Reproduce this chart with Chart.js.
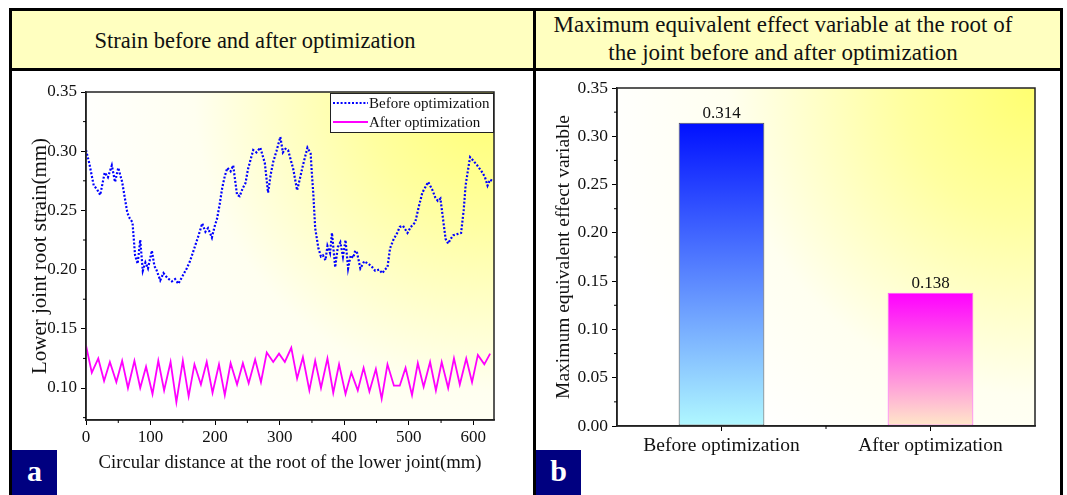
<!DOCTYPE html>
<html>
<head>
<meta charset="utf-8">
<script src="https://cdn.jsdelivr.net/npm/chart.js@4.4.0/dist/chart.umd.min.js"></script>
<style>
  body { margin: 0; width: 1067px; height: 495px; overflow: hidden; background: #fff;
         font-family: "Liberation Serif", "Times New Roman", serif; position: relative; }
  .abs { position: absolute; }
  .frame { left: 9px; top: 8px; width: 1048px; height: 500px; border: 3px solid #000; }
  .head { left: 12px; top: 11px; width: 1048px; height: 57px; background: #ffffc0; }
  .hline { left: 9px; top: 68px; width: 1054px; height: 3px; background: #000; }
  .vline { left: 533px; top: 8px; width: 3px; height: 490px; background: #000; }
  .title { color: #111; font-size: 22.5px; text-align: center; line-height: 28px; white-space: nowrap; }
  .tag { width: 45px; height: 46px; background: #000080; color: #fff; font-weight: bold;
         font-size: 30px; text-align: center; line-height: 42px; }
</style>
</head>
<body>
<div class="abs head"></div>
<div class="abs frame"></div>
<div class="abs hline"></div>
<div class="abs vline"></div>
<div class="abs title" style="left:12px; top:27px; width:486px;">Strain before and after optimization</div>
<div class="abs title" style="left:536px; top:11px; width:494px; font-size:23px;">Maximum equivalent effect variable at the root of<br>the joint before and after optimization</div>

<div class="abs" style="left:12px; top:71px; width:521px; height:424px;"><canvas id="strainChart"></canvas></div>
<div class="abs" style="left:536px; top:71px; width:524px; height:424px;"><canvas id="barChart"></canvas></div>

<div class="abs tag" style="left:12px; top:450px;">a</div>
<div class="abs tag" style="left:536px; top:450px;">b</div>

<script>
// ---- data ----
const beforeX = [0, 5, 12, 17, 22, 29, 34, 40, 45, 50, 56, 64, 68, 72, 76, 80, 84, 88, 92, 96,
  102, 106, 109, 115, 120, 126, 133, 138, 143, 150, 156, 161, 169, 175, 180, 185, 189, 195, 199, 203,
  207, 211, 215, 219, 224, 228, 234, 238, 243, 247, 251, 255, 259, 264, 270, 277, 282, 286, 290, 295,
  301, 305, 309, 313, 317, 321, 327, 331, 336, 343, 348, 350, 352, 355, 360, 364, 367, 371, 374, 378,
  381, 386, 390, 394, 398, 402, 406, 410, 414, 417, 420, 425, 431, 437, 442, 448, 454, 459, 463, 467,
  471, 476, 482, 486, 491, 498, 503, 510, 515, 521, 526, 530, 536, 541, 545, 549, 553, 557, 561, 565,
  569, 575, 581, 585, 588, 592, 595, 600, 606, 610, 614, 618, 622, 626, 629];
const beforeStrain = [0.301, 0.290, 0.271, 0.268, 0.263, 0.282, 0.278, 0.288, 0.274, 0.286, 0.274, 0.248, 0.243, 0.240, 0.212, 0.205, 0.225, 0.199, 0.206, 0.201,
  0.216, 0.203, 0.200, 0.191, 0.197, 0.193, 0.190, 0.192, 0.188, 0.195, 0.201, 0.207, 0.220, 0.230, 0.239, 0.232, 0.235, 0.227, 0.236, 0.243,
  0.255, 0.269, 0.279, 0.286, 0.283, 0.288, 0.263, 0.262, 0.269, 0.273, 0.285, 0.293, 0.301, 0.299, 0.303, 0.290, 0.265, 0.280, 0.291, 0.300,
  0.312, 0.299, 0.302, 0.301, 0.293, 0.285, 0.267, 0.276, 0.288, 0.303, 0.298, 0.280, 0.265, 0.235, 0.218, 0.211, 0.212, 0.208, 0.220, 0.214,
  0.231, 0.202, 0.219, 0.223, 0.211, 0.225, 0.201, 0.212, 0.210, 0.216, 0.214, 0.201, 0.207, 0.205, 0.203, 0.199, 0.200, 0.197, 0.200, 0.202,
  0.218, 0.225, 0.231, 0.236, 0.237, 0.231, 0.236, 0.240, 0.252, 0.265, 0.270, 0.274, 0.268, 0.261, 0.258, 0.260, 0.243, 0.226, 0.222, 0.226,
  0.229, 0.230, 0.231, 0.250, 0.271, 0.285, 0.295, 0.292, 0.288, 0.285, 0.282, 0.278, 0.271, 0.276, 0.275];

const afterX = [0, 9, 19, 28, 37, 47, 56, 65, 75, 84, 93, 103, 112, 121, 131, 140, 150, 159, 168, 178,
  187, 196, 206, 215, 224, 234, 243, 252, 262, 271, 280, 290, 299, 308, 318, 327, 336, 346, 355, 364,
  374, 383, 392, 402, 411, 421, 430, 439, 449, 458, 467, 477, 486, 495, 505, 514, 523, 533, 542, 551,
  561, 570, 579, 589, 598, 607, 617, 626];
const afterStrain = [0.136, 0.113, 0.125, 0.106, 0.122, 0.105, 0.123, 0.100, 0.123, 0.100, 0.118, 0.095, 0.123, 0.098, 0.122, 0.088, 0.123, 0.093, 0.120, 0.103,
  0.122, 0.096, 0.120, 0.094, 0.121, 0.103, 0.121, 0.104, 0.124, 0.105, 0.130, 0.122, 0.129, 0.122, 0.134, 0.108, 0.126, 0.098, 0.123, 0.100,
  0.125, 0.096, 0.120, 0.095, 0.113, 0.098, 0.117, 0.097, 0.116, 0.091, 0.120, 0.102, 0.102, 0.117, 0.094, 0.121, 0.101, 0.122, 0.098, 0.122,
  0.100, 0.125, 0.103, 0.125, 0.105, 0.128, 0.120, 0.129];

const barCategories = ['Before optimization', 'After optimization'];
const barValues = [0.314, 0.138];

const FONT = '"Liberation Serif", "Times New Roman", serif';
Chart.defaults.font.family = FONT;
Chart.defaults.color = '#111';
Chart.defaults.animation = false;

// yellow glow in the plot area, like the Origin page background
const plotBg = {
  id: 'plotBg',
  beforeDraw(chart) {
    const { ctx, chartArea: a } = chart;
    const g = ctx.createRadialGradient(a.right, a.top, 0, a.right, a.top, a.width * 1.05);
    g.addColorStop(0, '#ffff70');
    g.addColorStop(0.3, '#ffffa0');
    g.addColorStop(0.7, '#fffff0');
    g.addColorStop(1, '#ffffff');
    ctx.save();
    ctx.fillStyle = g;
    ctx.fillRect(a.left, a.top, a.width, a.height);
    ctx.restore();
  }
};

// box frame + minor ticks
function frameWith(minorX, minorY) {
  return {
    id: 'frame',
    afterDraw(chart) {
      const { ctx, chartArea: a, scales } = chart;
      ctx.save();
      ctx.strokeStyle = '#222';
      ctx.lineWidth = 1.5;
      ctx.strokeRect(a.left, a.top, a.width, a.height);
      ctx.lineWidth = 1;
      ctx.strokeStyle = '#000';
      ctx.beginPath();
      minorX.forEach(v => {
        const px = scales.x.getPixelForValue(v);
        ctx.moveTo(px, a.bottom); ctx.lineTo(px, a.bottom + 3);
      });
      minorY.forEach(v => {
        const py = scales.y.getPixelForValue(v);
        ctx.moveTo(a.left, py); ctx.lineTo(a.left - 3, py);
      });
      ctx.stroke();
      ctx.restore();
    }
  };
}

const legendBox = {
  id: 'legendBox',
  afterDraw(chart) {
    const { ctx, chartArea: a } = chart;
    const x0 = a.right - 164, y0 = a.top + 1, w = 164, h = 40;
    ctx.save();
    ctx.fillStyle = '#fff';
    ctx.fillRect(x0, y0, w, h);
    ctx.strokeStyle = '#222';
    ctx.lineWidth = 1;
    ctx.strokeRect(x0 + 0.5, y0 + 0.5, w - 1, h - 1);
    ctx.font = '15px ' + FONT;
    ctx.textBaseline = 'middle';
    chart.data.datasets.forEach((ds, i) => {
      const y = y0 + 10 + i * 19;
      ctx.strokeStyle = ds.borderColor;
      ctx.lineWidth = ds.borderWidth;
      ctx.setLineDash(ds.borderDash || []);
      ctx.beginPath();
      ctx.moveTo(x0 + 3, y); ctx.lineTo(x0 + 38, y);
      ctx.stroke();
      ctx.setLineDash([]);
      ctx.fillStyle = '#111';
      ctx.fillText(ds.label, x0 + 39, y + 1);
    });
    ctx.restore();
  }
};

const axisCommon = {
  border: { display: true, color: '#222', width: 1.5 },
  grid: { display: true, drawOnChartArea: false, drawTicks: true, tickLength: 5, color: '#000', tickWidth: 1 },
};

new Chart(document.getElementById('strainChart'), {
  type: 'line',
  data: {
    datasets: [
      {
        label: 'Before optimization',
        data: beforeX.map((x, i) => ({ x, y: beforeStrain[i] })),
        borderColor: '#0000ff',
        borderWidth: 2.2,
        borderDash: [2, 1.8],
        pointRadius: 0,
        tension: 0,
      },
      {
        label: 'After optimization',
        data: afterX.map((x, i) => ({ x, y: afterStrain[i] })),
        borderColor: '#ff00ff',
        borderWidth: 1.8,
        pointRadius: 0,
        tension: 0,
      },
    ],
  },
  options: {
    responsive: true,
    maintainAspectRatio: false,
    layout: { padding: { top: 21, right: 39, left: 16, bottom: 21 } },
    plugins: { legend: { display: false }, tooltip: { enabled: false } },
    scales: {
      x: {
        type: 'linear', min: 0, max: 632,
        ...axisCommon,
        ticks: { stepSize: 100, includeBounds: false, font: { size: 17 }, color: '#111', padding: 2 },
        title: { display: true, text: 'Circular distance at the root of the lower joint(mm)', font: { size: 18.7 }, color: '#111', padding: { top: 0, bottom: 0 } },
        afterFit(s) { s.height = 54; },
      },
      y: {
        type: 'linear', min: 0.073, max: 0.35,
        ...axisCommon,
        ticks: { stepSize: 0.05, includeBounds: false, font: { size: 17 }, color: '#111', padding: 4,
          callback: v => v.toFixed(2) },
        title: { display: true, text: 'Lower joint root strain(mm)', font: { size: 21 }, color: '#111', padding: { top: 0, bottom: 0 } },
        afterFit(s) { s.width = 58; },
      },
    },
  },
  plugins: [plotBg, frameWith([50, 150, 250, 350, 450, 550], [0.075, 0.125, 0.175, 0.225, 0.275, 0.325]), legendBox],
});

// bar fills fade top to bottom
const barStops = [['#0010ff', '#b0f8ff'], ['#ff00ff', '#ffe8c8']];
function barFill(ctx) {
  const chart = ctx.chart;
  if (!chart.chartArea) return barStops[ctx.dataIndex][0];
  const y = chart.scales.y;
  const g = chart.ctx.createLinearGradient(0, y.getPixelForValue(barValues[ctx.dataIndex]), 0, y.getPixelForValue(0));
  g.addColorStop(0, barStops[ctx.dataIndex][0]);
  g.addColorStop(1, barStops[ctx.dataIndex][1]);
  return g;
}

const barLabels = {
  id: 'barLabels',
  afterDatasetsDraw(chart) {
    const { ctx } = chart;
    const meta = chart.getDatasetMeta(0);
    ctx.save();
    ctx.font = '17px ' + FONT;
    ctx.fillStyle = '#111';
    ctx.textAlign = 'center';
    ctx.textBaseline = 'bottom';
    meta.data.forEach((bar, i) => {
      ctx.fillText(barValues[i].toFixed(3), bar.x, bar.y - 1);
    });
    ctx.restore();
  }
};

new Chart(document.getElementById('barChart'), {
  type: 'bar',
  data: {
    labels: barCategories,
    datasets: [{
      data: barValues,
      backgroundColor: barFill,
      borderColor: ['#555555', '#ff55ff'],
      borderWidth: 1,
      borderSkipped: false,
      barPercentage: 0.41,
      categoryPercentage: 1,
    }],
  },
  options: {
    responsive: true,
    maintainAspectRatio: false,
    layout: { padding: { top: 17, right: 25, left: 16, bottom: 0 } },
    plugins: { legend: { display: false }, tooltip: { enabled: false } },
    scales: {
      x: {
        ...axisCommon,
        grid: { ...axisCommon.grid, offset: false },
        ticks: { font: { size: 19.5 }, color: '#111', padding: 3 },
        afterFit(s) { s.height = 69; },
      },
      y: {
        min: 0, max: 0.35,
        ...axisCommon,
        ticks: { stepSize: 0.05, font: { size: 17.5 }, color: '#111', padding: 4, callback: v => v.toFixed(2) },
        title: { display: true, text: 'Maximum equivalent effect variable', font: { size: 19.5 }, color: '#111', padding: { top: 0, bottom: 0 } },
        afterFit(s) { s.width = 65; },
      },
    },
  },
  plugins: [plotBg, frameWith([0.5], [0.025, 0.075, 0.125, 0.175, 0.225, 0.275, 0.325]), barLabels],
});
</script>
</body>
</html>
